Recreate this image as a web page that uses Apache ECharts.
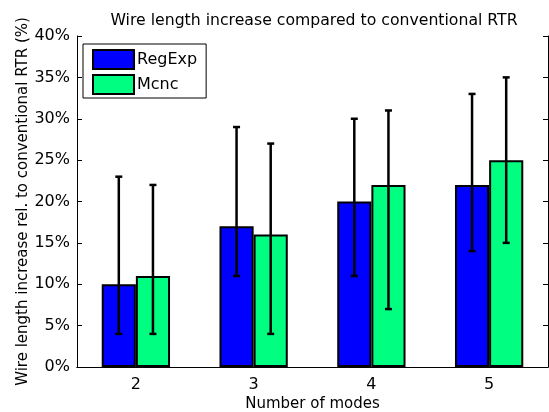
<!DOCTYPE html>
<html>
<head>
<meta charset="utf-8">
<script src="https://cdn.jsdelivr.net/npm/echarts@6/dist/echarts.min.js"></script>
<style>
html, body { margin: 0; padding: 0; background: #fff; }
#main { width: 549px; height: 412px; }
</style>
</head>
<body>
<div id="main"></div>
<script>
// data
var modes = ['2', '3', '4', '5'];
var regExp = [10, 17, 20, 22];
var regExpLow = [4, 11, 11, 14];
var regExpHigh = [23, 29, 30, 33];
var mcnc = [11, 16, 22, 25];
var mcncLow = [4, 4, 7, 15];
var mcncHigh = [22, 27, 31, 35];
var yTicks = [0, 5, 10, 15, 20, 25, 30, 35, 40];

var FONT = 'DejaVu Sans, sans-serif';
var BAR_PCT = 0.29;

function errData(lo, hi) {
    var out = [];
    for (var i = 0; i < lo.length; i++) out.push([i, lo[i], hi[i]]);
    return out;
}

// vertical error bar with caps, shifted onto the matching bar
function errRender(side) {
    return function (params, api) {
        var idx = api.value(0);
        var band = api.size([1, 0])[0];
        var dx = side * band * BAR_PCT / 2;
        var lo = api.coord([idx, api.value(1)]);
        var hi = api.coord([idx, api.value(2)]);
        var x = lo[0] + dx;
        var cap = 3.5;
        var st = { stroke: '#000', lineWidth: 2.5 };
        return {
            type: 'group',
            children: [
                { type: 'line', shape: { x1: x, y1: lo[1], x2: x, y2: hi[1] }, style: st },
                { type: 'line', shape: { x1: x - cap, y1: lo[1], x2: x + cap, y2: lo[1] }, style: st },
                { type: 'line', shape: { x1: x - cap, y1: hi[1], x2: x + cap, y2: hi[1] }, style: st }
            ]
        };
    };
}

var myChart = echarts.init(document.getElementById('main'), null, { renderer: 'canvas' });

var option = {
    animation: false,
    textStyle: { fontFamily: FONT },
    title: {
        text: 'Wire length increase compared to conventional RTR',
        left: 309, top: 8, textAlign: 'center',
        textStyle: { fontFamily: FONT, fontSize: 15.7, fontWeight: 'normal', color: '#000' }
    },
    legend: {
        orient: 'vertical',
        left: 83, top: 44,
        padding: [5, 9, 3, 9],
        itemGap: 4,
        itemWidth: 41, itemHeight: 19,
        icon: 'rect',
        borderColor: '#000', borderWidth: 1,
        backgroundColor: '#fff',
        data: ['RegExp', 'Mcnc'],
        textStyle: { fontFamily: FONT, fontSize: 16, color: '#000', padding: [0, 0, 0, -2] }
    },
    grid: { left: 77, right: 1, top: 36, bottom: 45, outerBoundsMode: 'none' },
    xAxis: [{
        type: 'category',
        data: modes,
        name: 'Number of modes',
        nameLocation: 'middle',
        nameGap: 30,
        nameMoveOverlap: false,
        nameTextStyle: { fontFamily: FONT, fontSize: 15, color: '#000' },
        axisLine: { lineStyle: { color: '#000', width: 1 } },
        axisTick: { inside: true, alignWithLabel: true, length: 5, lineStyle: { color: '#000' } },
        axisLabel: { fontFamily: FONT, fontSize: 16, color: '#000', margin: 10 }
    }, {
        type: 'category',
        data: modes,
        position: 'top',
        axisLine: { lineStyle: { color: '#000', width: 1 } },
        axisTick: { inside: true, alignWithLabel: true, length: 5, lineStyle: { color: '#000' } },
        axisLabel: { show: false }
    }],
    yAxis: [{
        type: 'value',
        min: yTicks[0], max: yTicks[yTicks.length - 1], interval: 5,
        name: 'Wire length increase rel. to conventional RTR (%)',
        nameLocation: 'middle',
        nameGap: 46,
        nameMoveOverlap: false,
        nameTextStyle: { fontFamily: FONT, fontSize: 15, color: '#000' },
        axisLine: { show: true, lineStyle: { color: '#000', width: 1 } },
        axisTick: { show: true, inside: true, length: 5, lineStyle: { color: '#000' } },
        splitLine: { show: false },
        axisLabel: { fontFamily: FONT, fontSize: 16, color: '#000', margin: 7, formatter: '{value}%' }
    }, {
        type: 'value',
        position: 'right',
        min: yTicks[0], max: yTicks[yTicks.length - 1], interval: 5,
        axisLine: { show: true, lineStyle: { color: '#000', width: 1 } },
        axisTick: { show: true, inside: true, length: 5, lineStyle: { color: '#000' } },
        splitLine: { show: false },
        axisLabel: { show: false }
    }],
    series: [
        {
            name: 'RegExp', type: 'bar', data: regExp,
            barWidth: (BAR_PCT * 100) + '%', barGap: '0%',
            itemStyle: { color: '#0000ff', borderColor: '#000', borderWidth: 2 }
        },
        {
            name: 'Mcnc', type: 'bar', data: mcnc,
            barWidth: (BAR_PCT * 100) + '%', barGap: '0%',
            itemStyle: { color: '#00ff80', borderColor: '#000', borderWidth: 2 }
        },
        {
            name: 'RegExpErr', type: 'custom', data: errData(regExpLow, regExpHigh),
            renderItem: errRender(-1), z: 5
        },
        {
            name: 'McncErr', type: 'custom', data: errData(mcncLow, mcncHigh),
            renderItem: errRender(1), z: 5
        }
    ]
};

myChart.setOption(option);
</script>
</body>
</html>
